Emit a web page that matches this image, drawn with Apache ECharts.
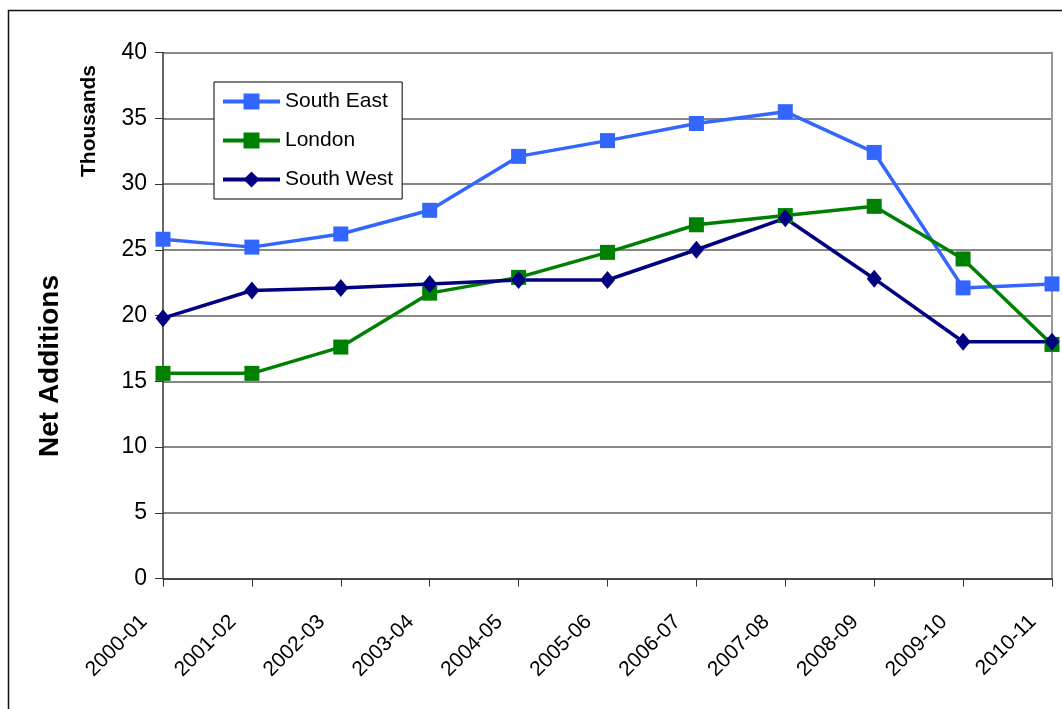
<!DOCTYPE html>
<html>
<head>
<meta charset="utf-8">
<script src="https://cdn.jsdelivr.net/npm/echarts@6/dist/echarts.min.js"></script>
<style>
  html, body { margin: 0; padding: 0; background: #fff; }
  #chart { width: 1062px; height: 709px; }
</style>
</head>
<body>
<div id="chart"></div>
<script>
// Net additions to dwelling stock by region (thousands)
const years = ['2000-01', '2001-02', '2002-03', '2003-04', '2004-05', '2005-06',
               '2006-07', '2007-08', '2008-09', '2009-10', '2010-11'];
const southEast = [25.8, 25.2, 26.2, 28.0, 32.1, 33.3, 34.6, 35.5, 32.4, 22.1, 22.4];
const london    = [15.6, 15.6, 17.6, 21.7, 22.9, 24.8, 26.9, 27.6, 28.3, 24.3, 17.8];
const southWest = [19.8, 21.9, 22.1, 22.4, 22.7, 22.7, 25.0, 27.4, 22.8, 18.0, 18.0];
const yTicks = [0, 5, 10, 15, 20, 25, 30, 35, 40];

const font = 'Liberation Sans, Arial, sans-serif';

function line(name, data, color, symbol, size) {
  return {
    name, type: 'line', data,
    symbol, symbolSize: size,
    lineStyle: { color, width: 3.5 },
    itemStyle: { color },
    animation: false
  };
}

const chart = echarts.init(document.getElementById('chart'));
chart.setOption({
  backgroundColor: '#fff',
  animation: false,
  grid: { left: 163, right: 10, top: 52.5, bottom: 130.5, containLabel: false },
  legend: {
    orient: 'vertical',
    left: 214, top: 82,
    padding: [9, 9, 9, 7],
    itemGap: 18,
    itemWidth: 57, itemHeight: 20,
    backgroundColor: '#fff',
    borderColor: '#000', borderWidth: 1,
    lineStyle: { width: 4 },
    textStyle: { fontFamily: font, fontSize: 21, color: '#000' },
    data: ['South East', 'London', 'South West']
  },
  xAxis: {
    type: 'category',
    data: years,
    boundaryGap: false,
    axisLine: { lineStyle: { color: '#333', width: 1.5 } },
    axisTick: { show: true, length: 8, alignWithLabel: true, lineStyle: { color: '#333' } },
    axisLabel: {
      rotate: 45, margin: 21, interval: 0,
      padding: [0, 27, 0, 0],
      fontFamily: font, fontSize: 21, color: '#000'
    },
    splitLine: { show: false }
  },
  yAxis: [{
    type: 'value',
    min: yTicks[0], max: yTicks[yTicks.length - 1], interval: 5,
    axisLine: { show: true, lineStyle: { color: '#333', width: 1.5 } },
    axisTick: { show: true, length: 8, lineStyle: { color: '#333' } },
    axisLabel: { margin: 16, fontFamily: font, fontSize: 23, color: '#000' },
    splitLine: { show: true, lineStyle: { color: '#5f5f5f', width: 1.5 } }
  }, {
    type: 'value',
    position: 'right',
    min: yTicks[0], max: yTicks[yTicks.length - 1], interval: 5,
    axisLine: { show: true, lineStyle: { color: '#999', width: 2 } },
    axisTick: { show: false },
    axisLabel: { show: false },
    splitLine: { show: false }
  }],
  graphic: [
    {
      type: 'rect',
      shape: { x: 8.5, y: 10.5, width: 1200, height: 900 },
      style: { fill: 'none', stroke: '#111', lineWidth: 1.5 },
      silent: true, z: -1
    },
    {
      type: 'text',
      x: 50, y: 366,
      rotation: Math.PI / 2,
      style: {
        text: 'Net Additions',
        fontFamily: font, fontSize: 28, fontWeight: 'bold', fill: '#000',
        align: 'center', verticalAlign: 'middle'
      }
    },
    {
      type: 'text',
      x: 89, y: 121,
      rotation: Math.PI / 2,
      style: {
        text: 'Thousands',
        fontFamily: font, fontSize: 21, fontWeight: 'bold', fill: '#000',
        align: 'center', verticalAlign: 'middle'
      }
    }
  ],
  series: [
    line('South East', southEast, '#3366FF', 'rect', 15),
    line('London', london, '#008000', 'rect', 15),
    line('South West', southWest, '#000080', 'diamond', [15, 18])
  ]
});
</script>
</body>
</html>
